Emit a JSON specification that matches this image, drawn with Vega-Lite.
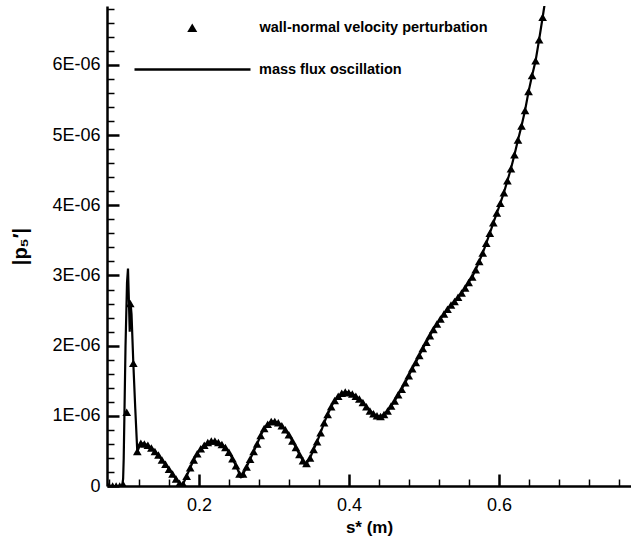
{
  "$schema": "https://vega.github.io/schema/vega-lite/v6.json",
  "width": 524,
  "height": 480,
  "autosize": {"type": "none"},
  "padding": {"left": 107, "top": 6, "right": 0, "bottom": 56},
  "background": "white",
  "config": {
    "view": {"stroke": null},
    "font": "Liberation Sans",
    "legend": {"labelFont": "Liberation Sans", "labelFontWeight": "bold", "labelFontSize": 14.5, "labelColor": "black", "labelLimit": 500, "padding": 0, "title": null}
  },
  "datasets": {
    "line": [
      {"s": 0.0773, "p": 0}, {"s": 0.0975, "p": 0}, {"s": 0.0988, "p": 0.1e-6}, {"s": 0.0996, "p": 0.4e-6},
      {"s": 0.1005, "p": 1.0e-6}, {"s": 0.1020, "p": 2.0e-6}, {"s": 0.1040, "p": 2.9e-6}, {"s": 0.1053, "p": 3.1e-6},
      {"s": 0.1066, "p": 2.6e-6}, {"s": 0.1076, "p": 2.2e-6}, {"s": 0.1088, "p": 2.6e-6}, {"s": 0.1100, "p": 2.45e-6},
      {"s": 0.1124, "p": 1.75e-6}, {"s": 0.1150, "p": 1.1e-6}, {"s": 0.1177, "p": 0.49e-6},
      {"s": 0.1224, "p": 0.61e-6}, {"s": 0.1271, "p": 0.60e-6}, {"s": 0.1318, "p": 0.58e-6}, {"s": 0.1365, "p": 0.54e-6},
      {"s": 0.1412, "p": 0.49e-6}, {"s": 0.1459, "p": 0.44e-6}, {"s": 0.1506, "p": 0.37e-6}, {"s": 0.1553, "p": 0.31e-6},
      {"s": 0.1600, "p": 0.24e-6}, {"s": 0.1647, "p": 0.17e-6}, {"s": 0.1694, "p": 0.10e-6}, {"s": 0.1741, "p": 0.04e-6},
      {"s": 0.1768, "p": 0.0}, {"s": 0.1788, "p": 0.03e-6}, {"s": 0.1835, "p": 0.14e-6}, {"s": 0.1882, "p": 0.26e-6},
      {"s": 0.1929, "p": 0.37e-6}, {"s": 0.1976, "p": 0.46e-6}, {"s": 0.2023, "p": 0.53e-6}, {"s": 0.2070, "p": 0.58e-6},
      {"s": 0.2117, "p": 0.62e-6}, {"s": 0.2164, "p": 0.64e-6}, {"s": 0.2211, "p": 0.64e-6}, {"s": 0.2258, "p": 0.62e-6},
      {"s": 0.2305, "p": 0.59e-6}, {"s": 0.2352, "p": 0.55e-6}, {"s": 0.2399, "p": 0.48e-6}, {"s": 0.2446, "p": 0.39e-6},
      {"s": 0.2493, "p": 0.29e-6}, {"s": 0.2540, "p": 0.17e-6}, {"s": 0.2560, "p": 0.13e-6}, {"s": 0.2587, "p": 0.17e-6},
      {"s": 0.2634, "p": 0.27e-6}, {"s": 0.2681, "p": 0.38e-6}, {"s": 0.2728, "p": 0.49e-6}, {"s": 0.2775, "p": 0.60e-6},
      {"s": 0.2822, "p": 0.72e-6}, {"s": 0.2869, "p": 0.82e-6}, {"s": 0.2916, "p": 0.88e-6}, {"s": 0.2963, "p": 0.92e-6},
      {"s": 0.3010, "p": 0.92e-6}, {"s": 0.3057, "p": 0.90e-6}, {"s": 0.3104, "p": 0.86e-6}, {"s": 0.3151, "p": 0.80e-6},
      {"s": 0.3198, "p": 0.73e-6}, {"s": 0.3245, "p": 0.64e-6}, {"s": 0.3292, "p": 0.55e-6}, {"s": 0.3339, "p": 0.45e-6},
      {"s": 0.3386, "p": 0.36e-6}, {"s": 0.3413, "p": 0.30e-6}, {"s": 0.3433, "p": 0.32e-6}, {"s": 0.3480, "p": 0.40e-6},
      {"s": 0.3527, "p": 0.52e-6}, {"s": 0.3574, "p": 0.63e-6}, {"s": 0.3621, "p": 0.76e-6}, {"s": 0.3668, "p": 0.90e-6},
      {"s": 0.3715, "p": 1.02e-6}, {"s": 0.3762, "p": 1.13e-6}, {"s": 0.3809, "p": 1.22e-6}, {"s": 0.3856, "p": 1.28e-6},
      {"s": 0.3903, "p": 1.32e-6}, {"s": 0.3950, "p": 1.34e-6}, {"s": 0.3997, "p": 1.33e-6}, {"s": 0.4044, "p": 1.31e-6},
      {"s": 0.4091, "p": 1.28e-6}, {"s": 0.4138, "p": 1.24e-6}, {"s": 0.4185, "p": 1.19e-6}, {"s": 0.4232, "p": 1.13e-6},
      {"s": 0.4279, "p": 1.07e-6}, {"s": 0.4326, "p": 1.03e-6}, {"s": 0.4373, "p": 1.00e-6}, {"s": 0.4420, "p": 0.99e-6},
      {"s": 0.4467, "p": 1.02e-6}, {"s": 0.4514, "p": 1.07e-6}, {"s": 0.4561, "p": 1.14e-6}, {"s": 0.4608, "p": 1.21e-6},
      {"s": 0.4655, "p": 1.30e-6}, {"s": 0.4702, "p": 1.38e-6}, {"s": 0.4749, "p": 1.47e-6}, {"s": 0.4796, "p": 1.57e-6},
      {"s": 0.4843, "p": 1.67e-6}, {"s": 0.4890, "p": 1.76e-6}, {"s": 0.4937, "p": 1.86e-6}, {"s": 0.4984, "p": 1.96e-6},
      {"s": 0.5031, "p": 2.05e-6}, {"s": 0.5078, "p": 2.14e-6}, {"s": 0.5125, "p": 2.23e-6}, {"s": 0.5172, "p": 2.31e-6},
      {"s": 0.5219, "p": 2.38e-6}, {"s": 0.5266, "p": 2.45e-6}, {"s": 0.5313, "p": 2.52e-6}, {"s": 0.5360, "p": 2.58e-6},
      {"s": 0.5407, "p": 2.63e-6}, {"s": 0.5454, "p": 2.69e-6}, {"s": 0.5501, "p": 2.75e-6}, {"s": 0.5548, "p": 2.82e-6},
      {"s": 0.5595, "p": 2.90e-6}, {"s": 0.5642, "p": 2.98e-6}, {"s": 0.5689, "p": 3.08e-6}, {"s": 0.5736, "p": 3.20e-6},
      {"s": 0.5783, "p": 3.32e-6}, {"s": 0.5830, "p": 3.46e-6}, {"s": 0.5877, "p": 3.60e-6}, {"s": 0.5924, "p": 3.75e-6},
      {"s": 0.5971, "p": 3.89e-6}, {"s": 0.6018, "p": 4.03e-6}, {"s": 0.6065, "p": 4.18e-6}, {"s": 0.6112, "p": 4.35e-6},
      {"s": 0.6159, "p": 4.52e-6}, {"s": 0.6206, "p": 4.72e-6}, {"s": 0.6253, "p": 4.93e-6}, {"s": 0.6300, "p": 5.13e-6},
      {"s": 0.6347, "p": 5.35e-6}, {"s": 0.6394, "p": 5.62e-6}, {"s": 0.6441, "p": 5.85e-6}, {"s": 0.6488, "p": 6.06e-6},
      {"s": 0.6535, "p": 6.36e-6}, {"s": 0.6582, "p": 6.68e-6}, {"s": 0.6625, "p": 6.98e-6}
    ],
    "tri": [
      {"s": 0.0801, "p": 0}, {"s": 0.0848, "p": 0}, {"s": 0.0895, "p": 0}, {"s": 0.0942, "p": 0},
      {"s": 0.0989, "p": 0.02e-6}, {"s": 0.1036, "p": 1.05e-6}, {"s": 0.1083, "p": 2.6e-6}, {"s": 0.1124, "p": 1.75e-6},
      {"s": 0.1177, "p": 0.49e-6},
      {"s": 0.1224, "p": 0.61e-6}, {"s": 0.1271, "p": 0.60e-6}, {"s": 0.1318, "p": 0.58e-6}, {"s": 0.1365, "p": 0.54e-6},
      {"s": 0.1412, "p": 0.49e-6}, {"s": 0.1459, "p": 0.44e-6}, {"s": 0.1506, "p": 0.37e-6}, {"s": 0.1553, "p": 0.31e-6},
      {"s": 0.1600, "p": 0.24e-6}, {"s": 0.1647, "p": 0.17e-6}, {"s": 0.1694, "p": 0.10e-6}, {"s": 0.1741, "p": 0.04e-6},
      {"s": 0.1788, "p": 0.03e-6}, {"s": 0.1835, "p": 0.14e-6}, {"s": 0.1882, "p": 0.26e-6},
      {"s": 0.1929, "p": 0.37e-6}, {"s": 0.1976, "p": 0.46e-6}, {"s": 0.2023, "p": 0.53e-6}, {"s": 0.2070, "p": 0.58e-6},
      {"s": 0.2117, "p": 0.62e-6}, {"s": 0.2164, "p": 0.64e-6}, {"s": 0.2211, "p": 0.64e-6}, {"s": 0.2258, "p": 0.62e-6},
      {"s": 0.2305, "p": 0.59e-6}, {"s": 0.2352, "p": 0.55e-6}, {"s": 0.2399, "p": 0.48e-6}, {"s": 0.2446, "p": 0.39e-6},
      {"s": 0.2493, "p": 0.29e-6}, {"s": 0.2540, "p": 0.17e-6}, {"s": 0.2587, "p": 0.17e-6},
      {"s": 0.2634, "p": 0.27e-6}, {"s": 0.2681, "p": 0.38e-6}, {"s": 0.2728, "p": 0.49e-6}, {"s": 0.2775, "p": 0.60e-6},
      {"s": 0.2822, "p": 0.72e-6}, {"s": 0.2869, "p": 0.82e-6}, {"s": 0.2916, "p": 0.88e-6}, {"s": 0.2963, "p": 0.92e-6},
      {"s": 0.3010, "p": 0.92e-6}, {"s": 0.3057, "p": 0.90e-6}, {"s": 0.3104, "p": 0.86e-6}, {"s": 0.3151, "p": 0.80e-6},
      {"s": 0.3198, "p": 0.73e-6}, {"s": 0.3245, "p": 0.64e-6}, {"s": 0.3292, "p": 0.55e-6}, {"s": 0.3339, "p": 0.45e-6},
      {"s": 0.3386, "p": 0.36e-6}, {"s": 0.3433, "p": 0.32e-6}, {"s": 0.3480, "p": 0.40e-6},
      {"s": 0.3527, "p": 0.52e-6}, {"s": 0.3574, "p": 0.63e-6}, {"s": 0.3621, "p": 0.76e-6}, {"s": 0.3668, "p": 0.90e-6},
      {"s": 0.3715, "p": 1.02e-6}, {"s": 0.3762, "p": 1.13e-6}, {"s": 0.3809, "p": 1.22e-6}, {"s": 0.3856, "p": 1.28e-6},
      {"s": 0.3903, "p": 1.32e-6}, {"s": 0.3950, "p": 1.34e-6}, {"s": 0.3997, "p": 1.33e-6}, {"s": 0.4044, "p": 1.31e-6},
      {"s": 0.4091, "p": 1.28e-6}, {"s": 0.4138, "p": 1.24e-6}, {"s": 0.4185, "p": 1.19e-6}, {"s": 0.4232, "p": 1.13e-6},
      {"s": 0.4279, "p": 1.07e-6}, {"s": 0.4326, "p": 1.03e-6}, {"s": 0.4373, "p": 1.00e-6}, {"s": 0.4420, "p": 0.99e-6},
      {"s": 0.4467, "p": 1.02e-6}, {"s": 0.4514, "p": 1.07e-6}, {"s": 0.4561, "p": 1.14e-6}, {"s": 0.4608, "p": 1.21e-6},
      {"s": 0.4655, "p": 1.30e-6}, {"s": 0.4702, "p": 1.38e-6}, {"s": 0.4749, "p": 1.47e-6}, {"s": 0.4796, "p": 1.57e-6},
      {"s": 0.4843, "p": 1.67e-6}, {"s": 0.4890, "p": 1.76e-6}, {"s": 0.4937, "p": 1.86e-6}, {"s": 0.4984, "p": 1.96e-6},
      {"s": 0.5031, "p": 2.05e-6}, {"s": 0.5078, "p": 2.14e-6}, {"s": 0.5125, "p": 2.23e-6}, {"s": 0.5172, "p": 2.31e-6},
      {"s": 0.5219, "p": 2.38e-6}, {"s": 0.5266, "p": 2.45e-6}, {"s": 0.5313, "p": 2.52e-6}, {"s": 0.5360, "p": 2.58e-6},
      {"s": 0.5407, "p": 2.63e-6}, {"s": 0.5454, "p": 2.69e-6}, {"s": 0.5501, "p": 2.75e-6}, {"s": 0.5548, "p": 2.82e-6},
      {"s": 0.5595, "p": 2.90e-6}, {"s": 0.5642, "p": 2.98e-6}, {"s": 0.5689, "p": 3.08e-6}, {"s": 0.5736, "p": 3.20e-6},
      {"s": 0.5783, "p": 3.32e-6}, {"s": 0.5830, "p": 3.46e-6}, {"s": 0.5877, "p": 3.60e-6}, {"s": 0.5924, "p": 3.75e-6},
      {"s": 0.5971, "p": 3.89e-6}, {"s": 0.6018, "p": 4.03e-6}, {"s": 0.6065, "p": 4.18e-6}, {"s": 0.6112, "p": 4.35e-6},
      {"s": 0.6159, "p": 4.52e-6}, {"s": 0.6206, "p": 4.72e-6}, {"s": 0.6253, "p": 4.93e-6}, {"s": 0.6300, "p": 5.13e-6},
      {"s": 0.6347, "p": 5.35e-6}, {"s": 0.6394, "p": 5.62e-6}, {"s": 0.6441, "p": 5.85e-6}, {"s": 0.6488, "p": 6.06e-6},
      {"s": 0.6535, "p": 6.36e-6}, {"s": 0.6582, "p": 6.68e-6}
    ]
  },
  "layer": [
    {
      "data": {"name": "tri"},
      "mark": {"type": "point", "filled": true, "color": "black", "opacity": 1, "size": 75, "clip": true},
      "encoding": {
        "x": {"field": "s", "type": "quantitative"},
        "y": {"field": "p", "type": "quantitative"},
        "shape": {
          "datum": "wall-normal velocity perturbation",
          "type": "nominal",
          "scale": {"range": ["triangle-up"]},
          "legend": {"orient": "none", "legendX": 78, "legendY": 14.5, "symbolSize": 100, "symbolFillColor": "black", "symbolStrokeColor": "black", "symbolStrokeWidth": 0, "labelOffset": 60, "padding": 0}
        }
      }
    },
    {
      "data": {"name": "line"},
      "mark": {"type": "line", "color": "black", "strokeWidth": 2.2, "clip": true},
      "encoding": {
        "x": {
          "field": "s",
          "type": "quantitative",
          "scale": {"domain": [0.0773, 0.776], "nice": false, "zero": false},
          "axis": {
            "values": [0.08, 0.12, 0.16, 0.2, 0.24, 0.28, 0.32, 0.36, 0.4, 0.44, 0.48, 0.52, 0.56, 0.6, 0.64, 0.68, 0.72, 0.76],
            "tickCount": 200,
            "grid": false,
            "domainColor": "black",
            "domainWidth": 2.5,
            "tickColor": "black",
            "tickSize": {"condition": {"test": "abs(datum.value*5-round(datum.value*5))<1e-6", "value": -12}, "value": -7},
            "tickWidth": {"condition": {"test": "abs(datum.value*5-round(datum.value*5))<1e-6", "value": 2.5}, "value": 1.5},
            "labelExpr": "abs(datum.value*5-round(datum.value*5))<1e-6 ? format(datum.value,'.1f') : ''",
            "labelFont": "Liberation Sans",
            "labelFontSize": 18,
            "labelColor": "black",
            "labelPadding": 22.5,
            "labelFlush": false,
            "labelOverlap": false,
            "title": "s* (m)",
            "titleFont": "Liberation Sans",
            "titleFontSize": 17,
            "titleFontWeight": "bold",
            "titleColor": "black",
            "titlePadding": 0
          }
        },
        "y": {
          "field": "p",
          "type": "quantitative",
          "scale": {"domain": [0, 6.84e-6], "nice": false, "zero": false},
          "axis": {
            "values": [0, 0.2e-6, 0.4e-6, 0.6e-6, 0.8e-6, 1e-6, 1.2e-6, 1.4e-6, 1.6e-6, 1.8e-6, 2e-6, 2.2e-6, 2.4e-6, 2.6e-6, 2.8e-6, 3e-6, 3.2e-6, 3.4e-6, 3.6e-6, 3.8e-6, 4e-6, 4.2e-6, 4.4e-6, 4.6e-6, 4.8e-6, 5e-6, 5.2e-6, 5.4e-6, 5.6e-6, 5.8e-6, 6e-6, 6.2e-6, 6.4e-6, 6.6e-6, 6.8e-6],
            "tickCount": 200,
            "grid": false,
            "domainColor": "black",
            "domainWidth": 2.5,
            "tickColor": "black",
            "tickSize": {"condition": {"test": "abs(datum.value*1e6-round(datum.value*1e6))<1e-3", "value": -12}, "value": -7},
            "tickWidth": {"condition": {"test": "abs(datum.value*1e6-round(datum.value*1e6))<1e-3", "value": 2.5}, "value": 1.5},
            "labelExpr": "datum.value == 0 ? '0' : (abs(datum.value*1e6-round(datum.value*1e6))<1e-3 ? round(datum.value*1e6) + 'E-06' : '')",
            "labelFont": "Liberation Sans",
            "labelFontSize": 18,
            "labelColor": "black",
            "labelPadding": 19,
            "labelFlush": false,
            "labelOverlap": false,
            "title": "|p₅′|",
            "titleFont": "Liberation Sans",
            "titleFontSize": 20,
            "titleFontWeight": "bold",
            "titleColor": "black",
            "titleAngle": -90,
            "titleBaseline": "middle",
            "titleAlign": "center",
            "titleX": -87,
            "titleY": 240
          }
        },
        "color": {
          "datum": "mass flux oscillation",
          "type": "nominal",
          "scale": {"range": ["black"]},
          "legend": {"orient": "none", "legendX": 26, "legendY": 4, "symbolType": "stroke", "symbolSize": 13456, "symbolStrokeWidth": 2.5, "symbolStrokeColor": "black", "labelOffset": 7, "padding": 0}
        }
      }
    }
  ]
}
